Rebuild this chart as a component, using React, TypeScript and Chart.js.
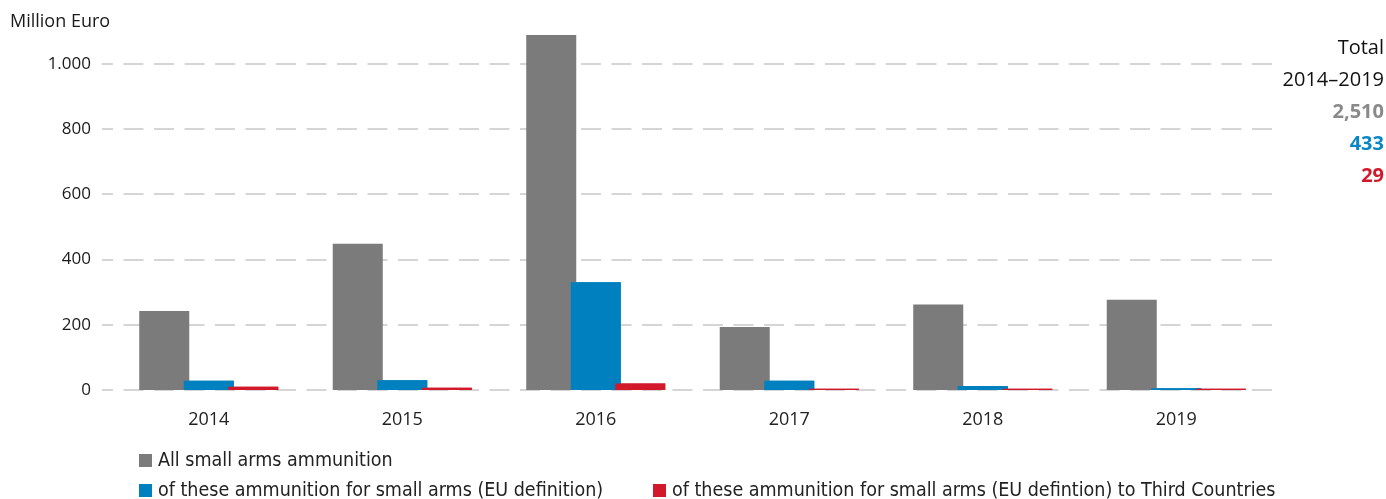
import React, { useEffect, useRef } from "react";
import { Chart, registerables } from "chart.js";

Chart.register(...registerables);

const years = ["2014", "2015", "2016", "2017", "2018", "2019"];
const allAmmo = [242, 448, 1088, 193, 262, 277];
const euDefinition = [28, 30, 330, 28, 12, 5];
const thirdCountries = [10, 7, 20, 4, 4, 4];
const seriesLabels = [
  "All small arms ammunition",
  "of these ammunition for small arms (EU definition)",
  "of these ammunition for small arms (EU defintion) to Third Countries",
];
const seriesColors = ["#7b7b7b", "#0080be", "#d2192b"];
const totalColors = ["#8a8a8a", "#0a86c4", "#d2192b"];
const yTickValues = [0, 200, 400, 600, 800, 1000];
const totalTitle = ["Total", "2014–2019"];
const totals = ["2,510", "433", "29"];
const unitLabel = "Million Euro";

const sansFont = "'Open Sans', 'DejaVu Sans', sans-serif";
const legendFont = "'DejaVu Sans Condensed', 'Liberation Sans Narrow', sans-serif";

const fmt = (v: number) => String(v).replace(/\B(?=(\d{3})+(?!\d))/g, ".");

const dashGrid = {
  id: "dashGrid",
  beforeDatasetsDraw(chart: any) {
    const { ctx, chartArea, scales } = chart;
    const y = scales.y;
    ctx.save();
    ctx.strokeStyle = "#c8c8c8";
    ctx.lineWidth = 1.6;
    ctx.setLineDash([20, 10.5]);
    ctx.lineDashOffset = 9;
    y.ticks.forEach((t: any) => {
      const py = Math.round(y.getPixelForValue(t.value));
      ctx.beginPath();
      ctx.moveTo(chartArea.left - 10, py);
      ctx.lineTo(chartArea.right + 2, py);
      ctx.stroke();
    });
    ctx.restore();
  },
};

const overlayOrder = {
  id: "overlayOrder",
  afterDatasetsDraw(chart: any) {
    [1, 2].forEach((i) => {
      const meta = chart.getDatasetMeta(i);
      if (meta && meta.controller) meta.controller.draw();
    });
  },
};

export default function App() {
  const canvasRef = useRef<HTMLCanvasElement | null>(null);

  useEffect(() => {
    if (!canvasRef.current) return;
    const chart = new Chart(canvasRef.current, {
      type: "bar",
      data: {
        labels: years,
        datasets: [
          { label: seriesLabels[0], data: allAmmo, backgroundColor: seriesColors[0] },
          { label: seriesLabels[1], data: euDefinition, backgroundColor: seriesColors[1] },
          { label: seriesLabels[2], data: thirdCountries, backgroundColor: seriesColors[2] },
        ],
      },
      options: {
        animation: false,
        responsive: false,
        maintainAspectRatio: false,
        datasets: {
          bar: { barPercentage: 1.124, categoryPercentage: 0.69, borderWidth: 0 },
        },
        layout: { padding: { left: 0, right: 113, top: 31, bottom: 59 } },
        plugins: { legend: { display: false }, tooltip: { enabled: false } },
        scales: {
          x: {
            grid: { display: false, drawTicks: false },
            border: { display: false },
            ticks: { font: { family: sansFont, size: 18 }, color: "#222", padding: 19 },
            afterFit: (s: any) => {
              s.height = 50;
            },
          },
          y: {
            min: 0,
            max: 1100,
            grid: { display: false, drawTicks: false },
            border: { display: false },
            ticks: {
              padding: 21,
              font: { family: sansFont, size: 17 },
              color: "#1a1a1a",
              callback: (v: any) => fmt(Number(v)),
            },
            afterBuildTicks: (s: any) => {
              s.ticks = yTickValues.map((v) => ({ value: v }));
            },
            afterFit: (s: any) => {
              s.width = 112;
            },
          },
        },
      },
      plugins: [dashGrid, overlayOrder],
    } as any);
    return () => chart.destroy();
  }, []);

  return (
    <div style={{ position: "absolute", left: 0, top: 0, width: 1386, height: 499, background: "#fff", overflow: "hidden" }}>
      <canvas ref={canvasRef} width={1386} height={499} style={{ position: "absolute", left: 0, top: 0, width: 1386, height: 499 }} />
      <div style={{ position: "absolute", left: 10, top: 8, fontFamily: sansFont, fontSize: 18, lineHeight: "24px", color: "#1a1a1a" }}>
        {unitLabel}
      </div>
      <div style={{ position: "absolute", right: 2, top: 31, textAlign: "right", fontFamily: sansFont, fontSize: 20, lineHeight: "32px", color: "#111" }}>
        {totalTitle.map((t) => (
          <div key={t}>{t}</div>
        ))}
        {totals.map((t, i) => (
          <div key={t} style={{ color: totalColors[i], fontWeight: 700 }}>{t}</div>
        ))}
      </div>
      {seriesLabels.map((lab, i) => {
        const pos = [
          { left: 139, top: 448 },
          { left: 139, top: 478 },
          { left: 653, top: 478 },
        ][i];
        return (
          <div key={lab} style={{ position: "absolute", left: pos.left, top: pos.top, display: "flex", alignItems: "center", fontFamily: legendFont, fontSize: 19.5, lineHeight: "24px", color: "#222", whiteSpace: "nowrap" }}>
            <span style={{ display: "inline-block", width: 13, height: 13, background: seriesColors[i], marginRight: 6 }} />
            {lab}
          </div>
        );
      })}
    </div>
  );
}
